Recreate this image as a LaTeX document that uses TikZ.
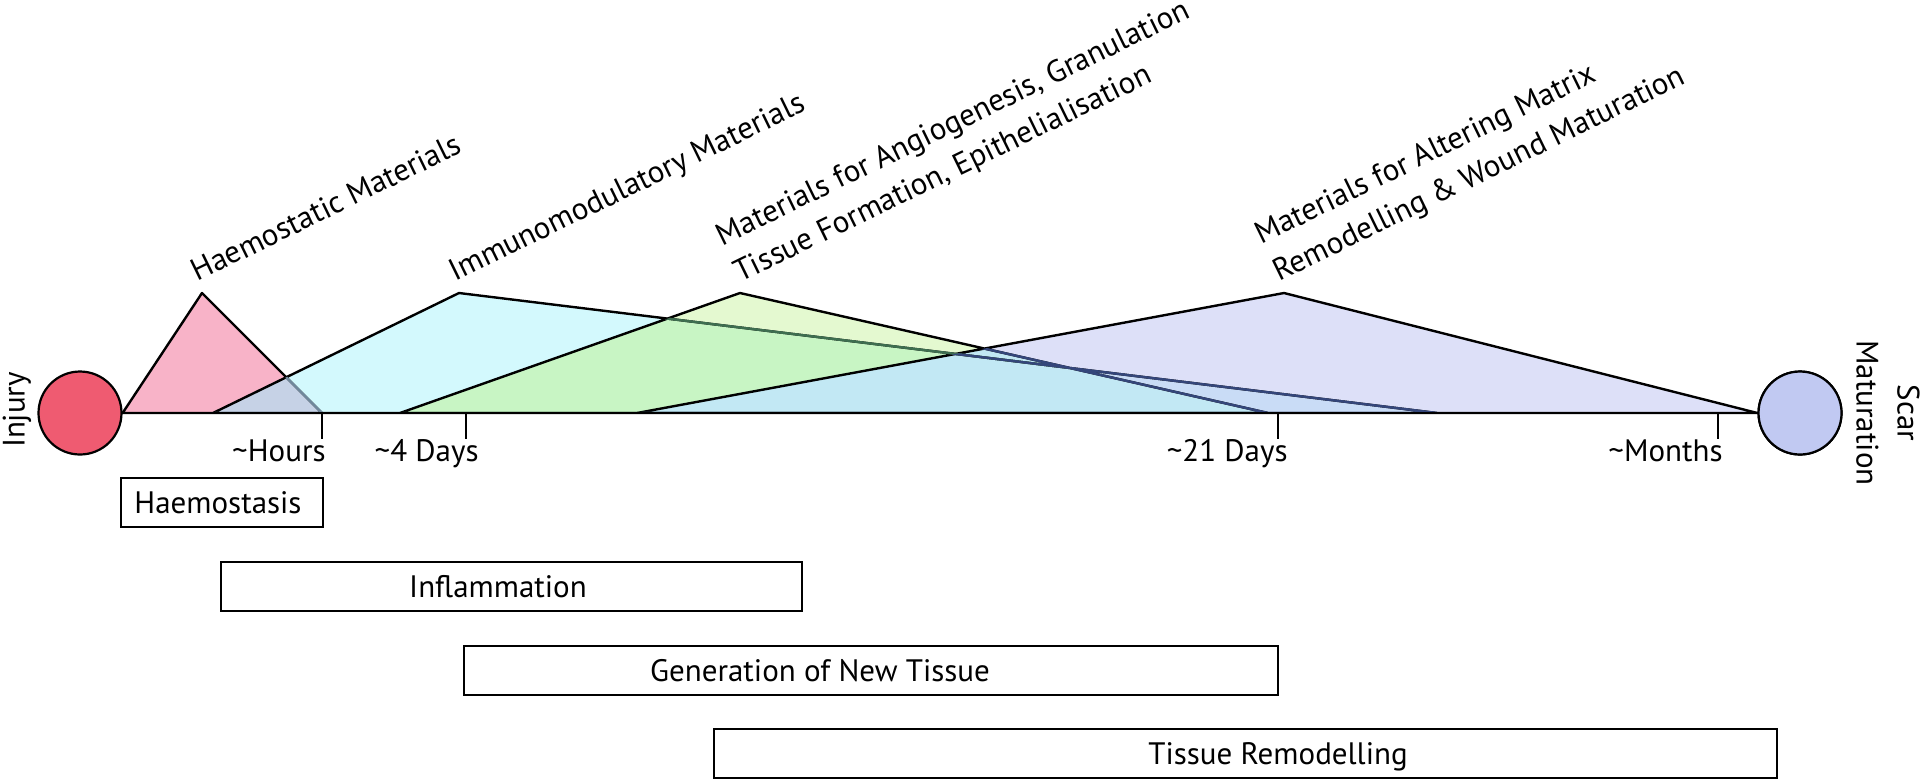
\documentclass[tikz,border=0pt]{standalone}
\usepackage{fontspec}
\setmainfont{PT Sans}
\definecolor{InjuryRed}{HTML}{EF5B71}
\definecolor{ScarBlue}{HTML}{C1C9F2}
\definecolor{HaemoPink}{HTML}{F8B3C8}
\definecolor{HaemoImmuno}{HTML}{C6D2E6}
\definecolor{ImmunoCyan}{HTML}{D3F9FD}
\definecolor{AngioLight}{HTML}{E4F9D0}
\definecolor{AngioGreen}{HTML}{C8F5C4}
\definecolor{MatrixLilac}{HTML}{DDE0F8}
\definecolor{MatrixImmuno}{HTML}{C9DCF6}
\definecolor{MatrixGreen}{HTML}{C2E8F4}
\definecolor{LineGrey}{HTML}{70889C}
\definecolor{LineGreen}{HTML}{3E6E50}
\definecolor{LineNavy}{HTML}{34467A}
\newcommand\haemopath{(injury.east) -- (202,293) -- (322,413) -- cycle}
\newcommand\immunopath{(213,413) -- (459,293) -- (1437,413) -- cycle}
\newcommand\angiopath{(400,413) -- (740,293) -- (1268,413) -- cycle}
\newcommand\matrixpath{(637,413) -- (1284,293) -- (scar.west) -- cycle}

\begin{document}
\begin{tikzpicture}[
  x={(0.5pt,0pt)},
  y={(0pt,-0.5pt)},
  font=\fontsize{15.5pt}{20.5pt}\selectfont,
  outline/.style={line width=1.2pt, line join=round},
  endpoint/.style={circle, draw, line width=1.1pt, minimum size=41.5pt, inner sep=0pt},
  phasebox/.style={draw, line width=1.3pt},
  material/.style={inner sep=0pt, rotate=26, align=left},
  ticklabel/.style={inner sep=0pt, anchor=base east}]
\useasboundingbox (0,0) rectangle (1920,783);
\node[endpoint, fill=InjuryRed] (injury) at (80,413) {};
\node[endpoint, fill=ScarBlue] (scar) at (1800,413) {};
% fills, back to front
\fill[HaemoPink] \haemopath;
\fill[ImmunoCyan] \immunopath;
\begin{scope}
  \clip \haemopath;
  \fill[HaemoImmuno] \immunopath;
  \end{scope}
\fill[AngioLight] \angiopath;
\begin{scope}
  \clip \angiopath;
  \fill[AngioGreen] \immunopath;
  \end{scope}
\fill[MatrixLilac] \matrixpath;
\begin{scope}
  \clip \matrixpath;
  \fill[MatrixImmuno] \immunopath;
  \fill[MatrixGreen] \angiopath;
  \end{scope}
% outlines
\draw[outline] \haemopath \immunopath \angiopath \matrixpath;
\begin{scope}
  \clip \immunopath;
  \draw[outline, LineGrey] \haemopath;
  \end{scope}
\begin{scope}
  \clip \angiopath;
  \draw[outline, LineGreen] \immunopath;
  \end{scope}
\begin{scope}
  \clip \matrixpath;
  \draw[outline, LineNavy] \immunopath \angiopath;
  \end{scope}
\node[endpoint, fill=ScarBlue] at (scar) {};
% time axis
\draw[line width=1.3pt] (injury) -- (scar);
\foreach \x/\tx/\n/\lab in {
  322/326/hours/Hours, 466/479/days/4 Days,
  1278/1288/weeks/21 Days, 1718/1723/months/Months}{
  \draw[line width=1.2pt] (\x,413) -- (\x,439);
  \node[ticklabel] (\n) at (\tx,461) {\textasciitilde\lab};}
\node[rotate=90] (injurylabel) at (17,410) {Injury};
\node[rotate=-90, align=center] (scarlabel) at (1888,413) {Scar\\Maturation};
% materials
\node[material, anchor=base west] (haemolabel) at (197,282) {Haemostatic Materials};
\node[material, anchor=base west] (immunolabel) at (455,282) {Immunomodulatory Materials};
\node[material, anchor=south west] (angiolabel) at (743,289)
  {Materials for Angiogenesis, Granulation\\Tissue Formation, Epithelialisation};
\node[material, anchor=south west] (matrixlabel) at (1282,288)
  {Materials for Altering Matrix\\Remodelling \& Wound Maturation};
% phases
\foreach \l/\r/\t/\tx/\n/\lab in {
  121/323/478/218/haemostasis/Haemostasis,
  221/802/562/498/inflammation/Inflammation,
  464/1278/646/820/newtissue/Generation of New Tissue,
  714/1777/729/1278/remodelling/Tissue Remodelling}{
  \draw[phasebox] (\l,\t) rectangle (\r,\t+49);
  \node[inner sep=0pt, anchor=base] (\n) at (\tx,\t+35) {\lab};}
\end{tikzpicture}
\end{document}
